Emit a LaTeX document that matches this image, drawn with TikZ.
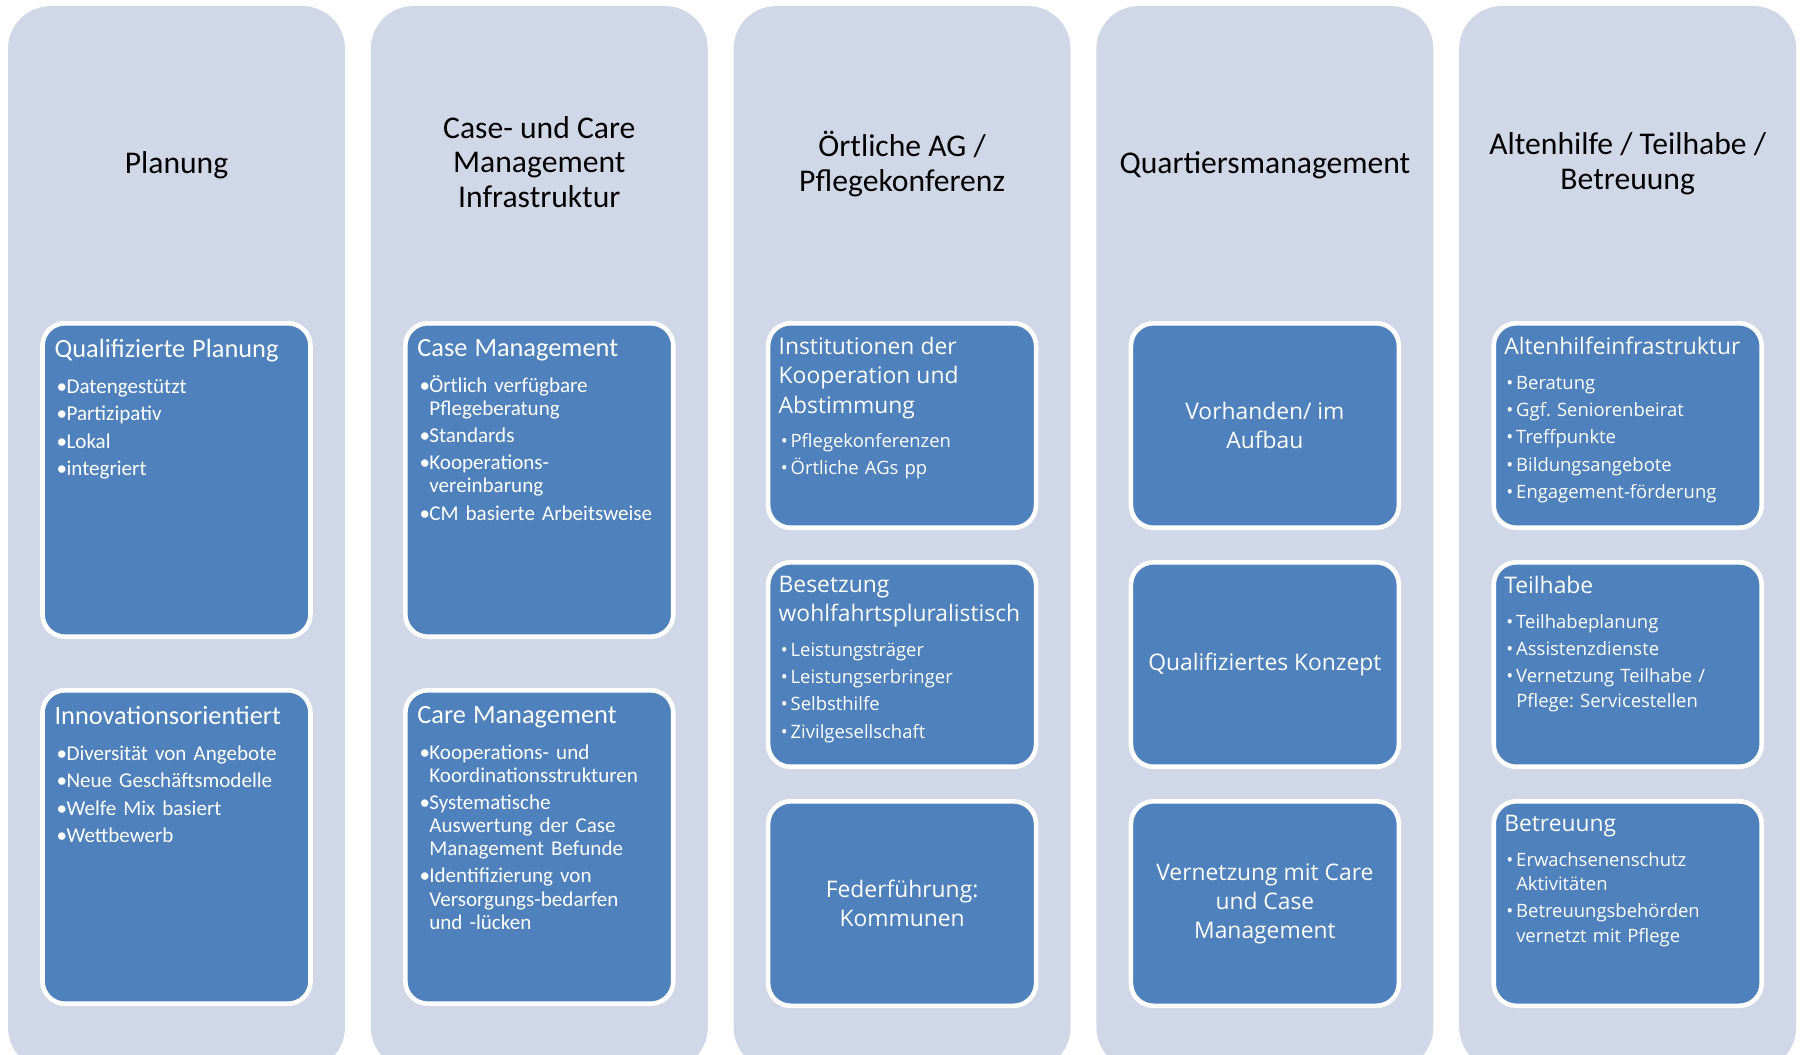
\documentclass[tikz,border=0pt]{standalone}
\usepackage{fontspec}
\setmainfont{Carlito}
\newfontfamily\opensans{Open Sans}
\usepackage{xcolor}
\usepackage{tikz}
\usetikzlibrary{positioning}

\definecolor{colfill}{RGB}{208,216,232}
\definecolor{boxblue}{RGB}{79,129,189}

\frenchspacing
\newcommand{\itm}[1]{\par\hangindent=6.8pt\hangafter=1\noindent\makebox[6.8pt][l]{\hspace{1.2pt}•}#1\par}
\newcommand{\ttla}[1]{\noindent{\fontsize{15}{16.5}\selectfont #1\par}\vspace{5pt}}
\newcommand{\ttlb}[1]{\noindent{\fontsize{13}{16.6}\selectfont #1\par}\vspace{4.2pt}}

\begin{document}
\begin{tikzpicture}[
x=0.02cm, y=-0.02cm,
column/.style={rectangle, rounded corners=0.85cm, fill=colfill, minimum width=6.74cm, minimum height=21.28cm},
head/.style={align=center, text=black, font=\fontsize{18}{19.8}\selectfont},
bluebox/.style={rectangle, rounded corners=0.45cm, fill=boxblue, draw=white, line width=2.6pt, minimum width=5.36cm},
tall/.style={bluebox, minimum height=6.27cm},
short/.style={bluebox, minimum height=4.09cm},
centered/.style={align=center, text=white, font=\opensans\fontsize{13}{16.5}\selectfont},
txta/.style={anchor=north west, xshift=0.28cm, yshift=-0.36cm, inner sep=0pt, text width=5.2cm, align=left, text=white, font=\frenchspacing\fontsize{12}{13.1}\selectfont, execute at begin node=\setlength{\parskip}{2.4pt}},
txtb/.style={anchor=north west, xshift=0.25cm, yshift=-0.32cm, inner sep=0pt, text width=5.3cm, align=left, text=white, font=\frenchspacing\opensans\fontsize{10.5}{13.8}\selectfont, execute at begin node=\setlength{\parskip}{1.7pt}}
]

\useasboundingbox[fill=white] (0,0) rectangle (1803,1055);

\node[column] (colplan) at (176.5,538) {};
\node[column] (colcase) at (539.3,538) {};
\node[column] (colag) at (902.1,538) {};
\node[column] (colqm) at (1264.9,538) {};
\node[column] (colalt) at (1627.7,538) {};

\node[head] (hplan) at (176.5,165) {Planung};
\node[head] (hcase) at (539.3,162) {Case- und Care\\Management\\Infrastruktur};
\node[head] (hag) at (902.1,164) {Örtliche AG /\\Pflegekonferenz};
\node[head] (hqm) at (1264.9,165) {Quartiersmanagement};
\node[head] (halt) at (1627.7,164) {Altenhilfe / Teilhabe /\\Betreuung};

\node[tall, anchor=north] (qp) at (176.5,321) {};
\node[tall, below=0.98cm of qp] (inno) {};
\node[tall, anchor=north] (cm) at (539.3,321) {};
\node[tall, below=0.98cm of cm] (carem) {};

\node[short, anchor=north] (inst) at (902.1,321) {};
\node[short, below=0.6cm of inst] (bes) {};
\node[short, centered, below=0.6cm of bes] (fed) {Federführung:\\Kommunen};

\node[short, centered, anchor=north] (vorh) at (1264.9,321) {Vorhanden/ im\\Aufbau};
\node[short, centered, below=0.6cm of vorh] (konz) {Qualifiziertes Konzept};
\node[short, centered, below=0.6cm of konz] (vern) {Vernetzung mit Care\\und Case\\Management};

\node[short, anchor=north] (alten) at (1627.7,321) {};
\node[short, below=0.6cm of alten] (teil) {};
\node[short, below=0.6cm of teil] (betr) {};

\node[txta] (qptext) at (qp.north west) {\ttla{Qualifizierte Planung}\itm{Datengestützt}\itm{Partizipativ}\itm{Lokal}\itm{integriert}};
\node[txta] (innotext) at (inno.north west) {\ttla{Innovationsorientiert}\itm{Diversität von Angebote}\itm{Neue Geschäftsmodelle}\itm{Welfe Mix basiert}\itm{Wettbewerb}};
\node[txta] (cmtext) at (cm.north west) {\ttla{Case Management}\itm{Örtlich verfügbare\newline Pflegeberatung}\itm{Standards}\itm{Kooperations-\newline vereinbarung}\itm{CM basierte Arbeitsweise}};
\node[txta] (caremtext) at (carem.north west) {\ttla{Care Management}\itm{Kooperations- und\newline Koordinationsstrukturen}\itm{Systematische\newline Auswertung der Case\newline Management Befunde}\itm{Identifizierung von\newline Versorgungs-bedarfen\newline und -lücken}};

\node[txtb] (insttext) at (inst.north west) {\ttlb{Institutionen der\newline Kooperation und\newline Abstimmung}\itm{Pflegekonferenzen}\itm{Örtliche AGs pp}};
\node[txtb] (bestext) at (bes.north west) {\ttlb{Besetzung\newline wohlfahrtspluralistisch}\itm{Leistungsträger}\itm{Leistungserbringer}\itm{Selbsthilfe}\itm{Zivilgesellschaft}};

\node[txtb] (altentext) at (alten.north west) {\ttlb{Altenhilfeinfrastruktur}\itm{Beratung}\itm{Ggf. Seniorenbeirat}\itm{Treffpunkte}\itm{Bildungsangebote}\itm{Engagement-förderung}};
\node[txtb] (teiltext) at (teil.north west) {\ttlb{Teilhabe}\itm{Teilhabeplanung}\itm{Assistenzdienste}\itm{Vernetzung Teilhabe /\newline Pflege: Servicestellen}};
\node[txtb] (betrtext) at (betr.north west) {\ttlb{Betreuung}\itm{Erwachsenenschutz\newline Aktivitäten}\itm{Betreuungsbehörden\newline vernetzt mit Pflege}};

\end{tikzpicture}
\end{document}
